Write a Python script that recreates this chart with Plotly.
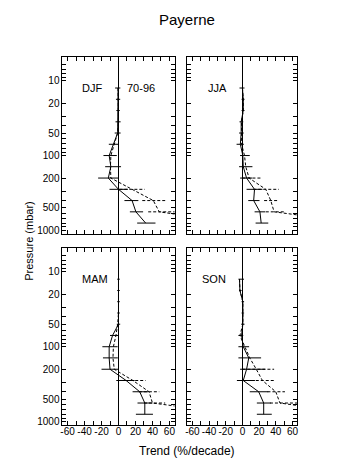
import math
import plotly.graph_objects as go

W, H = 351, 472

# Pressure levels (mbar)
levels = [12.5, 17.7, 25, 35.4, 50, 70.7, 100, 141, 200, 283, 400, 566, 800]

# --- DJF ---
djf_solid = [-0.5, -0.5, -0.5, -0.5, -1, -6, -11, -9, -12, 0, 16, 20.5, 32]
djf_lo = [-4, -3, -2.5, -3.5, -4.5, -11.4, -17.7, -15.7, -24, -10.6, 7, 13.4, 22]
djf_hi = [2.2, 2, 1.5, 2.5, 2.5, -0.2, -2, 3, 0, 11, 23.4, 29, 43.6]
djf_dash = [-0.5, -0.5, -0.5, 0, -1, -5, -9, -9.5, -9, 16, 41, 48, 140]
djf_dlo = [None] * 9 + [1, 28, 35, None]
djf_dhi = [None] * 9 + [31, 55, 67, None]

# --- JJA ---
jja_solid = [0, 1, 1, -1.5, -1.5, -2.5, 0.5, 1, 5, 14.5, 13.5, 21, 22.5]
jja_lo = [-3.5, -1, -1, -3.5, -4, -7, -2.8, -4, -2.8, 5, 7, 14.6, 15.8]
jja_hi = [2.5, 2.5, 2.5, 1, 1.5, 1.7, 8.8, 12, 11.6, 24, 20.5, 27.4, 31]
jja_dash = [0, 1, 1, -1, -1, -1, 2.5, 4, 8, 28, 34, 38, 140]
jja_dlo = [None] * 8 + [0, 13, 26, 28, None]
jja_dhi = [None] * 8 + [22, 43.7, 43, 52, None]

# --- MAM ---
mam_solid = [0, 0, 0, 0, 0, -7, -11, -11, -10, 9, 25, 31, 31]
mam_lo = [-1.5, -1.5, -1.5, -1.5, -2, -10, -19, -18.3, -20, -2.6, 16.6, 22.4, 20.5]
mam_hi = [1.5, 1.5, 1.5, 1.5, 2, 0.5, -1, -0.8, 0, 19, 35, 40, 40.6]
mam_dash = [0, 0, 0, 0, -1, -3, -6, -6.5, -5, 17, 36, 40, 140]
mam_dlo = [None] * 9 + [2, 24, 30, None]
mam_dhi = [None] * 9 + [32, 48, 55, None]

# --- SON ---
son_solid = [-3.5, -3, 0.5, 0.5, 0.5, -1, 1, 7.6, 5, 1, 19.5, 25.5, 25.5]
son_lo = [-4.8, -4, -1, -1, -1.5, -4.8, -4.8, -4.8, -2.8, -6.6, 8.8, 17.3, 17.3]
son_hi = [1.9, -1, 2, 2, 2.5, 1, 8, 22.4, 27.4, 15, 31, 34, 35.2]
son_dash = [-3.5, -3, 0.5, 0.5, 0.5, -3, 3, 8.8, 16.6, 24, 40, 45, 140]
son_dlo = [None] * 8 + [0, 10, 30, 33, None]
son_dhi = [None] * 8 + [38, 39, 51, 66, None]

# Axis ticks
x_tickvals = list(range(-60, 61, 10))
x_ticktext = ["-60", "", "-40", "", "-20", "", "0", "", "20", "", "40", "", "60"]
y_tickvals = [5, 6, 7, 8, 9, 10, 20, 30, 40, 50, 60, 70, 80, 90, 100,
              200, 300, 400, 500, 600, 700, 800, 900, 1000]
y_labelled = {10: "10", 20: "20", 50: "50", 100: "100", 200: "200", 500: "500", 1000: "1000"}
y_ticktext = [y_labelled.get(v, "") for v in y_tickvals]

panels = [
    ("DJF", djf_solid, djf_lo, djf_hi, djf_dash, djf_dlo, djf_dhi, "x", "y"),
    ("JJA", jja_solid, jja_lo, jja_hi, jja_dash, jja_dlo, jja_dhi, "x2", "y2"),
    ("MAM", mam_solid, mam_lo, mam_hi, mam_dash, mam_dlo, mam_dhi, "x3", "y3"),
    ("SON", son_solid, son_lo, son_hi, son_dash, son_dlo, son_dhi, "x4", "y4"),
]


def segments(lo, hi, lev):
    xs, ys = [], []
    for a, b, p in zip(lo, hi, lev):
        if a is None:
            continue
        xs += [a, b, None]
        ys += [p, p, None]
    return xs, ys


fig = go.Figure()
for name, sol, lo, hi, dsh, dlo, dhi, xa, ya in panels:
    fig.add_trace(go.Scatter(x=sol, y=levels, mode="lines", xaxis=xa, yaxis=ya,
                             line=dict(color="black", width=1), showlegend=False))
    bx, by = segments(lo, hi, levels)
    fig.add_trace(go.Scatter(x=bx, y=by, mode="lines", xaxis=xa, yaxis=ya,
                             line=dict(color="black", width=1), showlegend=False))
    fig.add_trace(go.Scatter(x=dsh, y=levels, mode="lines", xaxis=xa, yaxis=ya,
                             line=dict(color="black", width=1, dash="3px,2px"), showlegend=False))
    dx, dy = segments(dlo, dhi, levels)
    fig.add_trace(go.Scatter(x=dx, y=dy, mode="lines", xaxis=xa, yaxis=ya,
                             line=dict(color="black", width=1, dash="3px,2px"), showlegend=False))

xdom = {"L": [61 / W, 174 / W], "R": [187 / W, 298 / W]}
ydom = {"T": [1 - 235 / H, 1 - 57.5 / H], "B": [1 - 427 / H, 1 - 249.5 / H]}
yrange = [math.log10(1120), math.log10(4.85)]

font = "Liberation Sans, Arial, sans-serif"
common_x = dict(range=[-66, 66], tickvals=x_tickvals, ticktext=x_ticktext, ticks="inside",
                ticklen=4, tickcolor="black", tickwidth=1, showline=True, linecolor="black",
                linewidth=1, mirror="allticks", showgrid=False, zeroline=True,
                zerolinecolor="black", zerolinewidth=1, tickangle=0, ticklabelstandoff=-3,
                tickfont=dict(family=font, size=10, color="black"))
common_y = dict(type="log", range=yrange, tickvals=y_tickvals, ticktext=y_ticktext,
                ticks="inside", ticklen=4, tickcolor="black", tickwidth=1, showline=True,
                linecolor="black", linewidth=1, mirror="allticks", showgrid=False,
                zeroline=False, tickfont=dict(family=font, size=10, color="black"))

layout_axes = {}
spec = [("", "L", "T", False, True), ("2", "R", "T", False, False),
        ("3", "L", "B", True, True), ("4", "R", "B", True, False)]
for suf, xc, yr, xlab, ylab in spec:
    layout_axes["xaxis" + suf] = dict(common_x, domain=xdom[xc], anchor="y" + suf,
                                      showticklabels=xlab)
    layout_axes["yaxis" + suf] = dict(common_y, domain=ydom[yr], anchor="x" + suf,
                                      showticklabels=ylab)

fig.update_layout(width=W, height=H, margin=dict(l=0, r=0, t=0, b=0),
                  plot_bgcolor="white", paper_bgcolor="white",
                  font=dict(family=font, color="black"), **layout_axes)

labels = [("DJF", 90.5, 88), ("70-96", 140, 88), ("JJA", 217, 88),
          ("MAM", 94, 280), ("SON", 214, 280)]
for txt, px, py in labels:
    fig.add_annotation(text=txt, x=px / W, y=1 - py / H, xref="paper", yref="paper",
                       showarrow=False, xanchor="center", yanchor="middle",
                       font=dict(family=font, size=11, color="black"))

fig.add_annotation(text="Payerne", x=187 / W, y=1 - 20 / H, xref="paper", yref="paper",
                   showarrow=False, xanchor="center", yanchor="middle",
                   font=dict(family=font, size=15, color="black"))
fig.add_annotation(text="Pressure (mbar)", x=27 / W, y=1 - 242 / H, xref="paper", yref="paper",
                   showarrow=False, textangle=-90, xanchor="center", yanchor="middle",
                   font=dict(family=font, size=11, color="black"))
fig.add_annotation(text="Trend (%/decade)", x=186.7 / W, y=1 - 453 / H, xref="paper",
                   yref="paper", showarrow=False, xanchor="center", yanchor="middle",
                   font=dict(family=font, size=12, color="black"))

fig.write_html("out.html")
